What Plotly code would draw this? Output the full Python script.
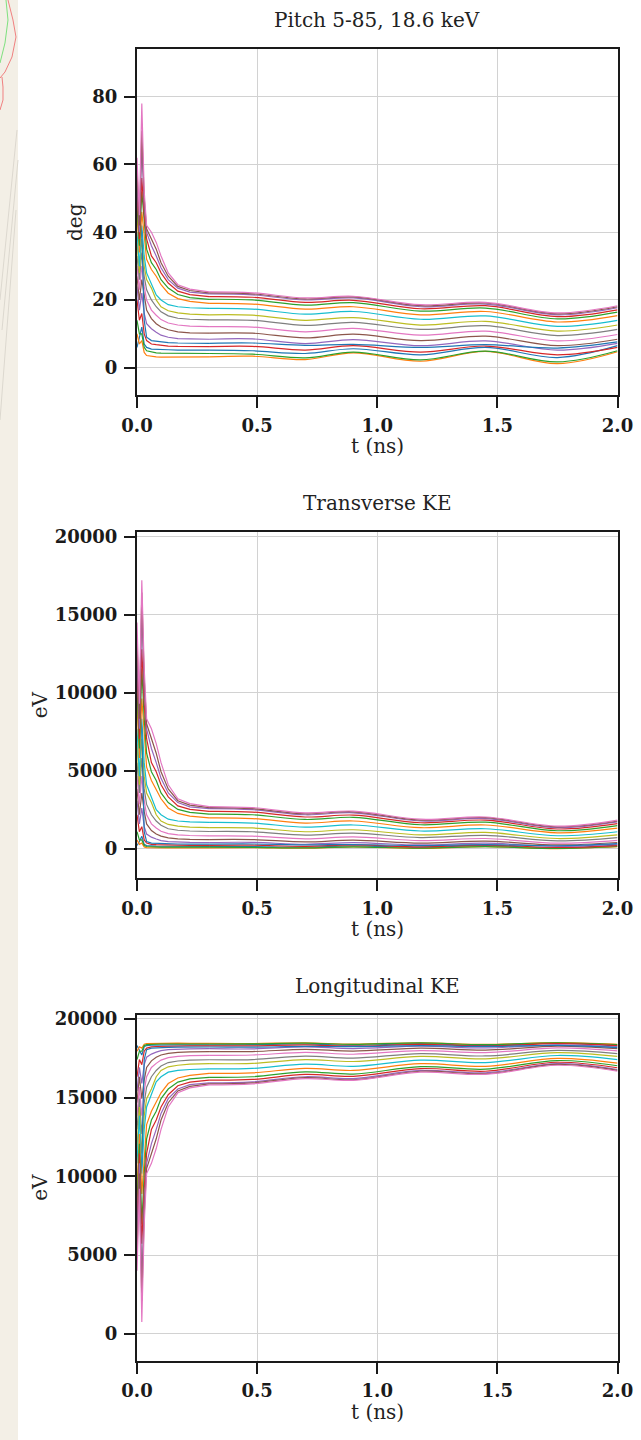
import plotly.graph_objects as go

W, H = 641, 1440

COLORS = ["#1f77b4", "#ff7f0e", "#2ca02c", "#d62728", "#9467bd",
          "#8c564b", "#e377c2", "#7f7f7f", "#bcbd22", "#17becf"]

INIT_PITCH = list(range(5, 90, 5))  # 17 trajectories, 5..85 deg

T_EARLY = [0, 0.01, 0.02, 0.03, 0.04, 0.06, 0.08, 0.1, 0.13, 0.17, 0.22, 0.3]
T_LATE = [0.3, 0.48, 0.7, 0.9, 1.18, 1.45, 1.75, 2.0]

pitch_early = [
    [6, 9, 12, 7, 6, 5.5, 5.4, 5.3, 5.3, 5.2, 5.2, 5.2],
    [10, 7, 8, 4.5, 3.6, 3.3, 3.2, 3.1, 3.1, 3.1, 3.2, 3.2],
    [14, 10, 10, 6, 5, 4.6, 4.4, 4.3, 4.3, 4.2, 4.2, 4.2],
    [20, 14, 16, 10, 8, 7, 6.8, 6.6, 6.4, 6.3, 6.2, 6.2],
    [24, 17, 22, 16, 13, 11.5, 10.5, 9.6, 9.0, 8.6, 8.5, 8.4],
    [27, 20, 26, 21, 17, 14.5, 13, 12, 11.2, 10.6, 10.3, 10.2],
    [30, 23, 30, 24, 20, 17, 15.5, 14.2, 13.2, 12.6, 12.3, 12.1],
    [33, 26, 34, 27, 23, 20, 18, 16.5, 15.3, 14.6, 14.3, 14.1],
    [37, 28, 38, 30, 26, 23.5, 20, 18, 16.8, 16.2, 15.8, 15.6],
    [40, 30, 42, 33, 28, 25, 21.5, 20, 18.6, 18.0, 17.7, 17.5],
    [50, 45, 40, 14, 9, 8, 7.8, 7.6, 7.4, 7.3, 7.2, 7.2],
    [45, 34, 46, 38, 32, 29, 27, 24.5, 22, 20.4, 19.6, 19.0],
    [48, 36, 52, 42, 35, 31, 29, 26, 23.5, 21.6, 20.7, 20.2],
    [52, 38, 56, 45, 38, 33, 31, 28, 25, 22.6, 21.6, 21.0],
    [55, 40, 66, 48, 40, 36, 33, 29.5, 26, 23.5, 22.3, 21.8],
    [58, 42, 70, 50, 41, 38, 35, 31, 27, 24, 22.8, 22.1],
    [62, 45, 78, 52, 42, 40, 37, 33, 28, 24.5, 23.2, 22.4],
]
pitch_late = [
    [5.2, 5.0, 4.2, 5.6, 3.8, 6.0, 3.0, 6.5],
    [3.2, 3.4, 2.4, 4.4, 1.9, 4.8, 1.2, 4.7],
    [4.2, 4.0, 2.9, 4.6, 2.3, 4.9, 1.7, 5.0],
    [6.2, 6.3, 5.2, 6.5, 4.6, 6.4, 3.8, 6.0],
    [8.4, 8.5, 7.1, 8.3, 6.5, 7.9, 5.2, 7.2],
    [10.2, 10.2, 8.8, 9.9, 8.0, 9.3, 6.5, 8.4],
    [12.1, 12.0, 10.6, 11.6, 9.6, 10.8, 7.9, 9.8],
    [14.1, 14.0, 12.5, 13.4, 11.3, 12.4, 9.5, 11.3],
    [15.6, 15.5, 14.0, 14.8, 12.6, 13.7, 10.8, 12.6],
    [17.5, 17.3, 15.8, 16.6, 14.3, 15.3, 12.2, 14.0],
    [7.2, 7.3, 6.6, 6.9, 6.0, 6.8, 5.8, 7.6],
    [19.0, 18.8, 17.3, 18.0, 15.6, 16.6, 13.5, 15.4],
    [20.2, 20.0, 18.5, 19.2, 16.7, 17.6, 14.4, 16.4],
    [21.0, 20.8, 19.3, 19.9, 17.4, 18.3, 15.1, 17.1],
    [21.8, 21.5, 20.0, 20.6, 18.0, 18.8, 15.6, 17.7],
    [22.1, 21.8, 20.3, 20.9, 18.3, 19.1, 15.9, 18.0],
    [22.4, 22.1, 20.6, 21.1, 18.6, 19.3, 16.2, 18.3],
]

trans_early = [
    [203, 456, 804, 277, 203, 171, 165, 159, 159, 153, 153, 153],
    [561, 277, 361, 115, 73, 62, 58, 54, 54, 54, 58, 58],
    [1088, 561, 561, 203, 141, 120, 109, 105, 105, 100, 100, 100],
    [2176, 1088, 1414, 561, 361, 277, 262, 247, 233, 225, 218, 218],
    [3077, 1590, 2610, 1414, 941, 740, 619, 519, 456, 418, 409, 399],
    [3834, 2176, 3574, 2389, 1590, 1167, 941, 804, 700, 630, 596, 584],
    [4650, 2840, 4650, 3077, 2176, 1590, 1330, 1118, 970, 886, 845, 818],
    [5517, 3574, 5816, 3834, 2840, 2176, 1776, 1502, 1280, 1183, 1135, 1104],
    [6737, 4100, 7050, 4650, 3574, 2958, 2176, 1776, 1555, 1449, 1380, 1346],
    [7685, 4650, 8327, 5517, 4100, 3322, 2499, 2176, 1893, 1776, 1720, 1683],
    [10914, 9300, 7685, 1088, 456, 361, 344, 327, 310, 302, 293, 293],
    [9300, 5816, 9625, 7050, 5223, 4372, 3834, 3200, 2610, 2261, 2094, 1971],
    [10272, 6426, 11550, 8327, 6119, 4934, 4372, 3574, 2958, 2521, 2325, 2218],
    [11550, 7050, 12783, 9300, 7050, 5517, 4934, 4100, 3322, 2748, 2521, 2389],
    [12481, 7685, 15523, 10272, 7685, 6426, 5517, 4510, 3574, 2958, 2679, 2566],
    [13377, 8327, 16424, 10914, 8007, 7050, 6119, 4934, 3834, 3077, 2794, 2633],
    [14500, 9300, 17200, 11550, 8327, 7685, 6737, 5517, 4100, 3200, 2887, 2702],
]
trans_late = [
    [153, 141, 100, 178, 82, 203, 51, 240],
    [58, 66, 33, 109, 20, 131, 8, 125],
    [100, 91, 48, 120, 30, 136, 16, 141],
    [218, 225, 153, 240, 120, 233, 82, 203],
    [399, 409, 285, 390, 240, 353, 153, 293],
    [584, 584, 437, 550, 361, 488, 240, 399],
    [818, 804, 630, 753, 519, 653, 353, 540],
    [1104, 1088, 873, 1000, 714, 859, 507, 714],
    [1346, 1330, 1088, 1214, 886, 1044, 653, 886],
    [1683, 1646, 1380, 1520, 1135, 1280, 831, 1088],
    [293, 302, 247, 269, 203, 262, 191, 327],
    [1971, 1932, 1646, 1776, 1346, 1520, 1015, 1313],
    [2218, 2176, 1874, 2013, 1537, 1702, 1151, 1484],
    [2389, 2346, 2033, 2155, 1665, 1835, 1263, 1609],
    [2566, 2499, 2176, 2303, 1776, 1932, 1346, 1720],
    [2633, 2566, 2240, 2367, 1835, 1992, 1396, 1776],
    [2702, 2633, 2303, 2411, 1893, 2033, 1449, 1835],
]

long_early = [
    [18300, 18040, 17700, 18220, 18300, 18330, 18340, 18340, 18340, 18350, 18350, 18350],
    [17940, 18220, 18140, 18390, 18430, 18440, 18440, 18450, 18450, 18450, 18440, 18440],
    [17410, 17940, 17940, 18300, 18360, 18380, 18390, 18400, 18400, 18400, 18400, 18400],
    [16320, 17410, 17090, 17940, 18140, 18220, 18240, 18250, 18270, 18280, 18280, 18280],
    [15420, 16910, 15890, 17090, 17560, 17760, 17880, 17980, 18040, 18080, 18090, 18100],
    [14670, 16320, 14930, 16110, 16910, 17330, 17560, 17700, 17800, 17870, 17900, 17920],
    [13850, 15660, 13850, 15420, 16320, 16910, 17170, 17380, 17530, 17610, 17660, 17680],
    [12980, 14930, 12680, 14670, 15660, 16320, 16720, 17000, 17220, 17320, 17370, 17400],
    [11760, 14400, 11450, 13850, 14930, 15540, 16320, 16720, 16950, 17050, 17120, 17150],
    [10820, 13850, 10170, 12980, 14400, 15180, 16000, 16320, 16610, 16720, 16780, 16820],
    [7590, 9200, 10820, 17410, 18040, 18140, 18160, 18170, 18190, 18200, 18210, 18210],
    [9200, 12680, 8880, 11450, 13280, 14130, 14670, 15300, 15890, 16240, 16410, 16530],
    [8230, 12070, 6950, 10170, 12380, 13570, 14130, 14930, 15540, 15980, 16180, 16280],
    [6950, 11450, 5720, 9200, 11450, 12980, 13570, 14400, 15180, 15750, 15980, 16110],
    [6020, 10820, 2980, 8230, 10820, 12070, 12980, 13990, 14930, 15540, 15820, 15930],
    [5120, 10170, 2080, 7590, 10490, 11450, 12380, 13570, 14670, 15420, 15710, 15870],
    [4000, 9200, 750, 6950, 10170, 10820, 11760, 12980, 14400, 15300, 15610, 15800],
]
long_late = [
    [18350, 18360, 18400, 18320, 18420, 18300, 18450, 18260],
    [18440, 18430, 18470, 18390, 18480, 18370, 18490, 18380],
    [18400, 18410, 18450, 18380, 18470, 18360, 18480, 18360],
    [18280, 18280, 18350, 18260, 18380, 18270, 18420, 18300],
    [18100, 18090, 18220, 18110, 18260, 18150, 18350, 18210],
    [17920, 17920, 18060, 17950, 18140, 18010, 18260, 18100],
    [17680, 17700, 17870, 17750, 17980, 17850, 18150, 17960],
    [17400, 17410, 17630, 17500, 17790, 17640, 17990, 17790],
    [17150, 17170, 17410, 17290, 17610, 17460, 17850, 17610],
    [16820, 16850, 17120, 16980, 17370, 17220, 17670, 17410],
    [18210, 18200, 18250, 18230, 18300, 18240, 18310, 18170],
    [16530, 16570, 16850, 16720, 17150, 16980, 17490, 17190],
    [16280, 16320, 16630, 16490, 16960, 16800, 17350, 17020],
    [16110, 16150, 16470, 16350, 16840, 16670, 17240, 16890],
    [15930, 16000, 16320, 16200, 16720, 16570, 17150, 16780],
    [15870, 15930, 16260, 16130, 16670, 16510, 17100, 16720],
    [15800, 15870, 16200, 16090, 16610, 16470, 17050, 16670],
]

TITLES = ["Pitch 5-85, 18.6 keV", "Transverse KE", "Longitudinal KE"]
YLABELS = ["deg", "eV", "eV"]
XLABEL = "t (ns)"
X_TICKS = [0.0, 0.5, 1.0, 1.5, 2.0]
Y_TICKS = [[0, 20, 40, 60, 80],
           [0, 5000, 10000, 15000, 20000],
           [0, 5000, 10000, 15000, 20000]]


def fx(p):
    return p / W


def fy(p):
    return 1 - p / H


# panel geometry in pixels (top, bottom) and value ranges
PANEL_PX = [(49, 395), (532.3, 878.3), (1014.8, 1360.8)]
Y_RANGES = [[-8.06, 94.1], [-1897, 20282], [-1718, 20254]]
X_PX = (137, 617.5)

fig = go.Figure()
panels = [(pitch_early, pitch_late), (trans_early, trans_late), (long_early, long_late)]
for k, (early, late) in enumerate(panels):
    xa = "x" if k == 0 else f"x{k + 1}"
    ya = "y" if k == 0 else f"y{k + 1}"
    for i in range(len(INIT_PITCH)):
        c = COLORS[i % 10]
        fig.add_trace(go.Scatter(
            x=T_EARLY, y=early[i], mode="lines", xaxis=xa, yaxis=ya,
            line=dict(color=c, width=1.2), showlegend=False,
            name=f"{INIT_PITCH[i]}°", hoverinfo="skip"))
        fig.add_trace(go.Scatter(
            x=T_LATE, y=late[i], mode="lines", xaxis=xa, yaxis=ya,
            line=dict(color=c, width=1.2, shape="spline", smoothing=1.0),
            showlegend=False, name=f"{INIT_PITCH[i]}°", hoverinfo="skip"))

INK = "#1a1a1a"
tickfont = dict(family="DejaVu Serif", size=18, color=INK, weight="bold")
common = dict(showline=True, linecolor=INK, linewidth=2, mirror=True,
              ticks="outside", ticklen=11, tickwidth=2, tickcolor=INK,
              showgrid=True, gridcolor="#d2d2d2", gridwidth=1,
              zeroline=False, tickfont=tickfont, automargin=False)

layout = dict(width=W, height=H, margin=dict(l=0, r=0, t=0, b=0),
              paper_bgcolor="white", plot_bgcolor="white", showlegend=False)

for k in range(3):
    top, bot = PANEL_PX[k]
    xkey = "xaxis" if k == 0 else f"xaxis{k + 1}"
    ykey = "yaxis" if k == 0 else f"yaxis{k + 1}"
    yanchor = "y" if k == 0 else f"y{k + 1}"
    xanchor = "x" if k == 0 else f"x{k + 1}"
    layout[xkey] = dict(common, domain=[fx(X_PX[0]), fx(X_PX[1])], range=[0, 2],
                        tickvals=X_TICKS, ticktext=[f"{v:.1f}" for v in X_TICKS],
                        anchor=yanchor, ticklabelstandoff=2)
    layout[ykey] = dict(common, domain=[fy(bot), fy(top)], range=Y_RANGES[k],
                        tickvals=Y_TICKS[k], ticktext=[str(v) for v in Y_TICKS[k]],
                        anchor=xanchor, ticklabelstandoff=3)

fig.update_layout(**layout)

textfont = dict(family="DejaVu Serif", size=20, color="#222222")
annotations = []
xc = (X_PX[0] + X_PX[1]) / 2
for k in range(3):
    top, bot = PANEL_PX[k]
    annotations.append(dict(text=TITLES[k], x=fx(xc), y=fy(top - 29), xref="paper", yref="paper",
                            xanchor="center", yanchor="middle", showarrow=False, font=textfont))
    annotations.append(dict(text=XLABEL, x=fx(xc), y=fy(bot + 51), xref="paper", yref="paper",
                            xanchor="center", yanchor="middle", showarrow=False, font=textfont))
    ylx = 75 if k == 0 else 40
    annotations.append(dict(text=YLABELS[k], x=fx(ylx), y=fy((top + bot) / 2), xref="paper",
                            yref="paper", xanchor="center", yanchor="middle", showarrow=False,
                            textangle=-90, font=textfont))
fig.update_layout(annotations=annotations)

# background strip on the left edge (part of the surrounding page)
shapes = [dict(type="rect", xref="paper", yref="paper", x0=0, x1=fx(18), y0=0, y1=1,
               fillcolor="#f3efe6", line=dict(width=0), layer="below")]


def path(pts):
    return "M " + " L ".join(f"{fx(a):.5f},{fy(b):.5f}" for a, b in pts)


shapes.append(dict(type="path", xref="paper", yref="paper", layer="below",
                   path=path([(8, 0), (13, 20), (16, 37), (12, 57), (5, 72), (0, 78)]),
                   line=dict(color="#f08080", width=1)))
shapes.append(dict(type="path", xref="paper", yref="paper", layer="below",
                   path=path([(2, 77), (3, 87), (3, 100), (0, 110)]),
                   line=dict(color="#f08080", width=1)))
shapes.append(dict(type="path", xref="paper", yref="paper", layer="below",
                   path=path([(6, 0), (8, 20), (5, 43), (0, 63)]),
                   line=dict(color="#7ee07e", width=1)))
for a, b in [((17, 130), (0, 300)), ((18, 160), (2, 330)), ((16, 210), (0, 420))]:
    shapes.append(dict(type="line", xref="paper", yref="paper", layer="below",
                       x0=fx(a[0]), y0=fy(a[1]), x1=fx(b[0]), y1=fy(b[1]),
                       line=dict(color="#dcd8cf", width=1)))
fig.update_layout(shapes=shapes)

fig.write_html("out.html", config={"displayModeBar": False})

# pin the page to the window size so the figure sits exactly at the origin
with open("out.html", "r", encoding="utf-8") as f:
    html = f.read()
html = html.replace(
    "<head>",
    "<head><style>html,body{margin:0;padding:0;width:641px;height:1440px;overflow:hidden;}</style>",
    1)
with open("out.html", "w", encoding="utf-8") as f:
    f.write(html)
